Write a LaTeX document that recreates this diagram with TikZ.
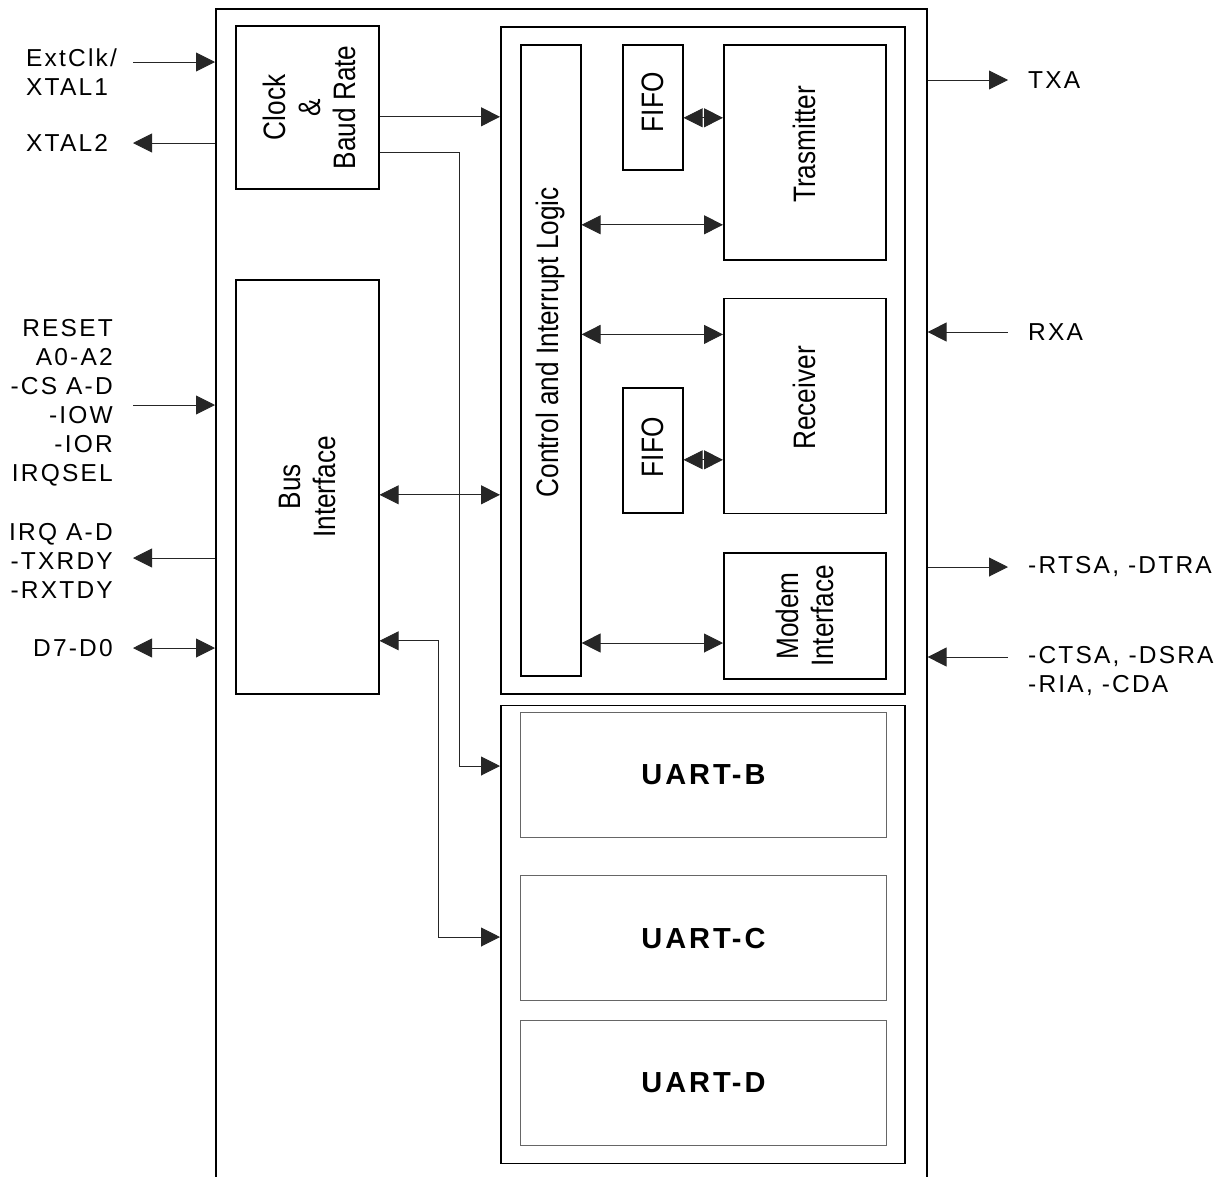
\documentclass[tikz,border=0pt]{standalone}
\usepackage{fontspec}
\setmainfont{Liberation Sans}
\newfontfamily\pinfont{Liberation Sans}[LetterSpace=9]
\newfontfamily\blkfont{Liberation Sans}[FakeStretch=0.845]
\newfontfamily\uartfont{Liberation Sans}[LetterSpace=10]
\usetikzlibrary{arrows.meta, positioning, calc}

\begin{document}
\begin{tikzpicture}[
        x=1pt, y=-1pt,
        % Estilos para bloques
        blk/.style={
                rectangle,
                draw,
                line width=1.6pt,
                anchor=north west,
                inner sep=0pt
            },
        uartbox/.style={
                rectangle,
                draw=black!60,
                line width=1pt,
                anchor=north west,
                minimum width=366pt,
                minimum height=125pt,
                font=\uartfont\bfseries\fontsize{29}{32}\selectfont
            },
        blktxt/.style={
                font=\blkfont\fontsize{31}{35}\selectfont,
                align=center,
                inner sep=0pt
            },
        pinlbl/.style={
                font=\pinfont\fontsize{24.5}{29}\selectfont,
                inner sep=0pt
            },
        % Flechas
        sig/.style={
                line width=0.9pt,
                draw=black!85,
                >={Triangle[length=19pt, width=19pt]}
            }
    ]

    \useasboundingbox (0,0) rectangle (1225,1176);
    \clip (0,0) rectangle (1225,1176);

    % CHIP
    \node[blk, minimum width=711pt, minimum height=1180pt] (chip) at (215,8) {};

    % RELOJ Y BUS (izquierda)
    \node[blk, minimum width=143pt, minimum height=163pt] (clk) at (235,25) {};
    \node[blk, minimum width=143pt, minimum height=414pt] (bus) at (235,279) {};

    % UART-A (arriba-derecha)
    \node[blk, minimum width=404pt, minimum height=667pt] (uarta) at (500,26) {};
    \node[blk, minimum width=60pt, minimum height=631pt] (ctrl) at (520,44) {};
    \node[blk, minimum width=60pt, minimum height=125pt] (fifotx) at (622,44) {};
    \node[blk, minimum width=162pt, minimum height=215pt] (tx) at (723,44) {};
    \node[blk, minimum width=162pt, minimum height=215pt, below=37pt of tx] (rx) {};
    \node[blk, minimum width=60pt, minimum height=125pt] (fiforx) at (622,387) {};
    \node[blk, minimum width=162pt, minimum height=126pt, below=38pt of rx] (modem) {};

    % UART-B..D (abajo-derecha)
    \node[blk, minimum width=404pt, minimum height=458pt, below=10pt of uarta] (uarts) {};
    \node[uartbox] (uartb) at (520,712) {UART-B};
    \node[uartbox, below=37pt of uartb] (uartc) {UART-C};
    \node[uartbox, below=19pt of uartc] (uartd) {UART-D};

    % TEXTOS DE BLOQUES
    \node[blktxt, rotate=90] (clklbl) at ($(clk.center)+(2,0)$) {Clock\\\&\\Baud Rate};
    \node[blktxt, rotate=90] (buslbl) at (bus.center) {Bus\\Interface};
    \node[blktxt, rotate=90] (ctrllbl) at ($(ctrl.center)+(0,-18)$) {Control and Interrupt Logic};
    \node[blktxt, rotate=90] (fifotxlbl) at ($(fifotx.center)+(0,-5)$) {FIFO};
    \node[blktxt, rotate=90] (txlbl) at ($(tx.center)+(0,-8)$) {Trasmitter};
    \node[blktxt, rotate=90] (rxlbl) at ($(rx.center)+(0,-8)$) {Receiver};
    \node[blktxt, rotate=90] (fiforxlbl) at ($(fiforx.center)+(0,-3)$) {FIFO};
    \node[blktxt, rotate=90] (modemlbl) at (modem.center) {Modem\\Interface};

    % PINES
    \node[pinlbl, anchor=west, align=left] (extclklbl) at (26,72) {ExtClk/\\XTAL1};
    \node[pinlbl, anchor=west] (xtal2lbl) at (26,143) {XTAL2};
    \node[pinlbl, anchor=east, align=right] (ctlinlbl) at (113,403) {RESET\\A0-A2\\-CS A-D\\-IOW\\-IOR\\IRQSEL};
    \node[pinlbl, anchor=east, align=right] (irqlbl) at (113,561) {IRQ A-D\\-TXRDY\\-RXTDY};
    \node[pinlbl, anchor=east] (datalbl) at (113,648) {D7-D0};
    \node[pinlbl, anchor=west] (txalbl) at (1028,80) {TXA};
    \node[pinlbl, anchor=west] (rxalbl) at (1028,332) {RXA};
    \node[pinlbl, anchor=west] (rtslbl) at (1028,567) {-RTSA, -DTRA};
    \node[pinlbl, anchor=west, align=left] (ctslbl) at (1028,671) {-CTSA, -DSRA\\-RIA, -CDA};

    \coordinate (extclkpin) at (133,62);
    \coordinate (xtal2pin) at (133,143);
    \coordinate (ctlinpin) at (133,405);
    \coordinate (irqpin) at (133,558);
    \coordinate (datapin) at (133,648);
    \coordinate (txapin) at (1008,80);
    \coordinate (rxapin) at (1008,332);
    \coordinate (rtspin) at (1008,567);
    \coordinate (ctspin) at (1008,657);

    \coordinate (clkctrl) at ([yshift=-9.5pt]clk.east);
    \coordinate (clkuart) at ([yshift=-45.5pt]clk.east);
    \coordinate (clkbend) at (459,766);
    \coordinate (busctrl) at ([yshift=-8pt]bus.east);
    \coordinate (busuart) at ([yshift=-154pt]bus.east);
    \coordinate (busbend) at (438,937);
    \coordinate (txctrl) at ([yshift=-72.5pt]tx.west);
    \coordinate (rxctrl) at ([yshift=71.5pt]rx.west);
    \coordinate (modemctrl) at ([yshift=-27pt]modem.west);
    \coordinate (fifotxport) at ([yshift=-10.5pt]fifotx.east);
    \coordinate (fiforxport) at ([yshift=-9.5pt]fiforx.east);

    % FLECHAS
    \draw[sig, ->] (extclkpin) -- (extclkpin -| chip.west);
    \draw[sig, <-] (xtal2pin) -- (xtal2pin -| chip.west);
    \draw[sig, ->] (ctlinpin) -- (ctlinpin -| chip.west);
    \draw[sig, <-] (irqpin) -- (irqpin -| chip.west);
    \draw[sig, <->] (datapin) -- (datapin -| chip.west);
    \draw[sig, ->] (txapin -| chip.east) -- (txapin);
    \draw[sig, <-] (rxapin -| chip.east) -- (rxapin);
    \draw[sig, ->] (rtspin -| chip.east) -- (rtspin);
    \draw[sig, <-] (ctspin -| chip.east) -- (ctspin);

    \draw[sig, ->] (clkctrl) -- (clkctrl -| uarta.west);
    \draw[sig, ->] (clkuart) -| (clkbend) -- (clkbend -| uarts.west);
    \draw[sig, <->] (busctrl) -- (busctrl -| uarta.west);
    \draw[sig, <->] (busuart) -| (busbend) -- (busbend -| uarts.west);
    \draw[sig, <->] (txctrl -| ctrl.east) -- (txctrl);
    \draw[sig, <->] (rxctrl -| ctrl.east) -- (rxctrl);
    \draw[sig, <->] (modemctrl -| ctrl.east) -- (modemctrl);
    \draw[sig, <->] (fifotxport) -- (fifotxport -| tx.west);
    \draw[sig, <->] (fiforxport) -- (fiforxport -| rx.west);

\end{tikzpicture}
\end{document}
